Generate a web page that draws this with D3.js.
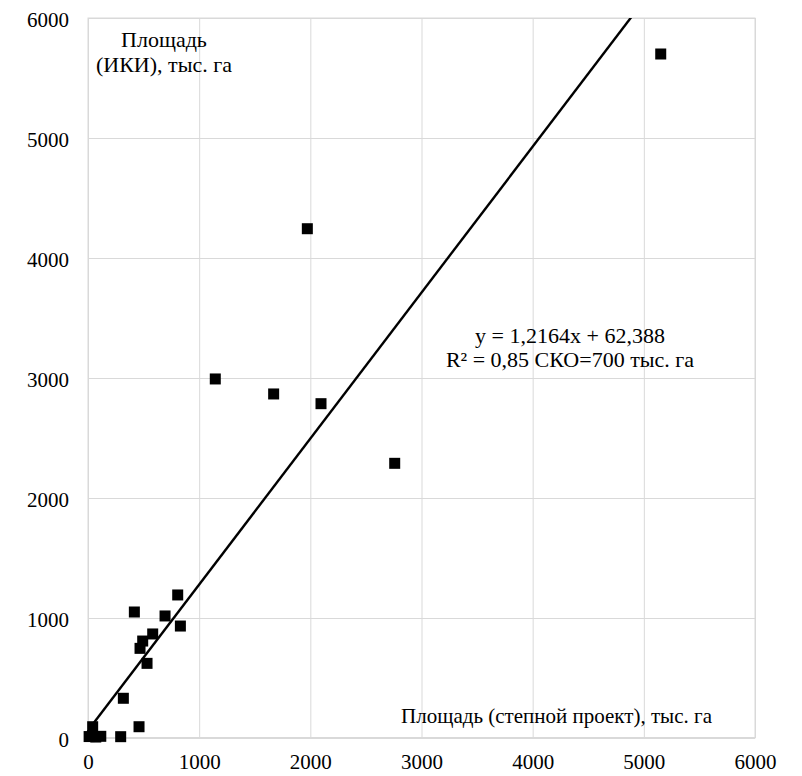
<!DOCTYPE html>
<html>
<head>
<meta charset="utf-8">
<script src="https://cdn.jsdelivr.net/npm/d3@7"></script>
<style>
    body { margin: 0; background: #fff; }
    svg text { font-family: "Times New Roman", "Liberation Serif", serif !important; fill: #000; }
    .grid line { stroke: #d9d9d9; stroke-width: 1; }
    .grid path { display: none; }
    .axis path, .axis line { display: none; }
</style>
</head>
<body>
<div id="chart"></div>
<script>
// степной проект (x) vs ИКИ (y), тыс. га
const steppeArea = [10, 40, 70, 115, 42, 294, 318, 459, 531, 468, 492, 582, 417, 693, 831, 807,
    1145, 1670, 2096, 2759, 1973, 5152];
const ikiArea = [12, 20, 8, 14, 94, 11, 331, 94, 622, 747, 808, 867, 1050, 1017, 933, 1192,
    2992, 2867, 2786, 2289, 4244, 5700];

const xTicks = [0, 1000, 2000, 3000, 4000, 5000, 6000];
const yTicks = [0, 1000, 2000, 3000, 4000, 5000, 6000];

const slope = 1.2164;
const intercept = 62.388;
const equationLines = ['y = 1,2164x + 62,388', 'R² = 0,85 СКО=700 тыс. га'];
const yTitleLines = ['Площадь', '(ИКИ), тыс. га'];
const xTitle = 'Площадь (степной проект), тыс. га';

const margin = {top: 18, right: 47, bottom: 38, left: 88};
const width = 802 - margin.left - margin.right;
const height = 776 - margin.top - margin.bottom;
const fontSize = '21px';
const labelSize = '22px';

const svg = d3.select('#chart').append('svg')
    .attr('width', 802)
    .attr('height', 776)
    .append('g')
        .attr('transform', 'translate(' + margin.left + ',' + margin.top + ')');

const x = d3.scaleLinear().domain([0, 6000]).range([0, width]);
const y = d3.scaleLinear().domain([0, 6000]).range([height, 0]);

// gridlines
svg.append('g')
    .attr('class', 'grid')
    .call(d3.axisLeft(y).tickValues(yTicks).tickSize(-width).tickFormat(''));
svg.append('g')
    .attr('class', 'grid')
    .attr('transform', 'translate(0,' + height + ')')
    .call(d3.axisBottom(x).tickValues(xTicks).tickSize(-height).tickFormat(''));

// plot border
svg.append('rect')
    .attr('width', width)
    .attr('height', height)
    .attr('fill', 'none')
    .attr('stroke', '#d9d9d9')
    .attr('stroke-width', 1);
svg.append('line')
    .attr('x1', 0).attr('x2', width)
    .attr('y1', y(0)).attr('y2', y(0))
    .attr('stroke', '#d9d9d9')
    .attr('stroke-width', 2);

// tick labels
const xAxis = svg.append('g')
    .attr('class', 'axis')
    .attr('transform', 'translate(0,' + height + ')')
    .call(d3.axisBottom(x).tickValues(xTicks).tickSize(0).tickPadding(16).tickFormat(d3.format('d')));
xAxis.attr('font-family', null).attr('font-size', null);
xAxis.selectAll('text').style('font-size', fontSize);

const yAxis = svg.append('g')
    .attr('class', 'axis')
    .call(d3.axisLeft(y).tickValues(yTicks).tickSize(0).tickPadding(19).tickFormat(d3.format('d')));
yAxis.attr('font-family', null).attr('font-size', null);
yAxis.selectAll('text').style('font-size', fontSize).attr('dy', '0.4em');

// trend line, clipped to the plot area
svg.append('clipPath').attr('id', 'plotClip')
    .append('rect').attr('width', width).attr('height', height);

const xExtent = d3.extent(steppeArea);
const trend = xExtent.map(v => [v, slope * v + intercept]);
svg.append('path')
    .datum(trend)
    .attr('clip-path', 'url(#plotClip)')
    .attr('fill', 'none')
    .attr('stroke', '#000')
    .attr('stroke-width', 2.4)
    .attr('d', d3.line().x(d => x(d[0])).y(d => y(d[1])));

// points
const size = 11;
svg.append('g')
    .selectAll('rect')
    .data(steppeArea.map((v, i) => [v, ikiArea[i]]))
    .join('rect')
        .attr('x', d => x(d[0]) - size / 2)
        .attr('y', d => y(d[1]) - size / 2)
        .attr('width', size)
        .attr('height', size)
        .attr('fill', '#000');

// y title
svg.append('text')
    .attr('text-anchor', 'middle')
    .style('font-size', labelSize)
    .selectAll('tspan')
    .data(yTitleLines)
    .join('tspan')
        .attr('x', 76)
        .attr('y', (d, i) => 29 + i * 25)
        .text(d => d);

// x title
svg.append('text')
    .attr('x', 624)
    .attr('y', 705)
    .attr('text-anchor', 'end')
    .style('font-size', fontSize)
    .text(xTitle);

// equation
svg.append('text')
    .attr('text-anchor', 'middle')
    .style('font-size', labelSize)
    .selectAll('tspan')
    .data(equationLines)
    .join('tspan')
        .attr('x', 482)
        .attr('y', (d, i) => 325 + i * 24)
        .text(d => d);
</script>
</body>
</html>
